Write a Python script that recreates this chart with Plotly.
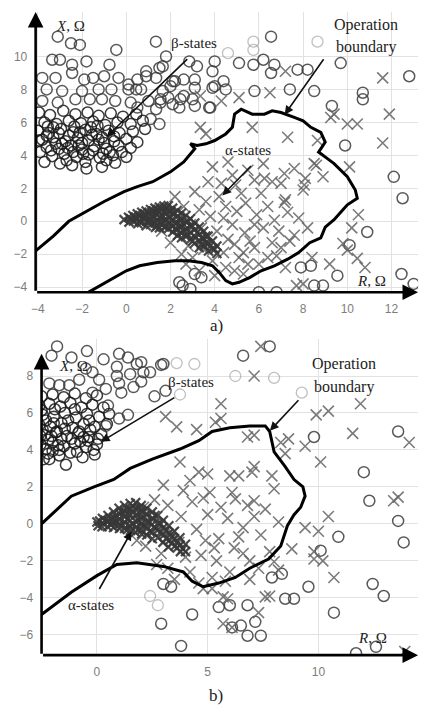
import plotly.graph_objects as go

W, H = 424, 707

# ---------------- Panel a) data ----------------
A_BOUNDARY_R = [-4.1, -3.3, -2.6, -1.8, -1.0, -0.1, 0.5, 1.2, 2.0, 2.6, 2.9, 3.1, 2.9, 3.2, 3.6, 4.0, 4.5, 4.8,
                4.9, 5.2, 5.7, 6.25, 6.6, 7.0, 7.6, 8.0, 8.35, 8.8, 9.0, 8.7, 9.1, 9.4, 10.0, 10.36, 10.45, 10.0,
                9.8, 9.4, 9.0, 8.8, 8.3, 7.8, 7.3, 6.7, 6.1, 5.6, 5.1, 4.8, 4.5, 4.2, 3.9, 3.4, 2.8, 2.2, 1.4,
                0.6, 0.0, -0.8, -1.7]
A_BOUNDARY_X = [-1.8, -0.9, 0.0, 0.6, 1.2, 1.8, 2.1, 2.4, 3.0, 3.6, 4.1, 4.4, 4.7, 4.6, 4.7, 4.9, 5.3, 5.7,
                6.5, 6.8, 6.5, 6.5, 6.7, 6.6, 6.3, 6.1, 5.7, 5.4, 4.8, 4.2, 3.8, 3.5, 2.7, 1.9, 1.4, 1.0,
                0.7, 0.1, -0.35, -1.0, -1.3, -1.9, -2.3, -2.7, -3.0, -3.4, -3.7, -3.8, -3.6, -3.1, -2.7, -2.5,
                -2.4, -2.4, -2.5, -2.7, -3.0, -3.6, -4.3]

A_BETA = [(-3.1, 11.2), (-2.5, 10.8), (-2.1, 10.7), (-0.45, 10.4), (1.34, 10.9), (-3.35, 9.8), (-3.0, 9.8),
          (-2.45, 9.5), (-1.8, 9.7), (-0.76, 9.5), (-3.8, 8.7), (-3.2, 8.7), (-2.45, 9.0), (-1.9, 8.6),
          (-1.5, 8.7), (-1.0, 8.8), (-0.35, 8.7), (0.1, 8.3), (0.5, 8.6), (0.9, 9.1), (1.5, 9.3), (1.8, 10.0),
          (-3.6, 8.0), (-2.9, 7.9), (-2.0, 7.9), (-1.25, 8.0), (-0.67, 8.0), (0.1, 8.0), (0.67, 8.0),
          (1.65, 7.9), (2.0, 8.2), (-3.8, 7.3), (-3.1, 7.2), (-2.3, 7.4), (-1.65, 7.4), (-1.1, 7.4),
          (-0.5, 7.3), (0.2, 7.2), (1.0, 7.3), (1.55, 7.4), (2.1, 7.1), (2.85, 9.7), (1.65, 9.4), (1.35, 8.7),
          (0.9, 8.8), (0.45, 8.0), (1.9, 7.5), (1.55, 7.2), (1.35, 6.8), (2.45, 7.4), (3.0, 7.4), (3.1, 7.0),
          (3.8, 6.9), (2.6, 8.6), (2.1, 8.5), (3.9, 8.1), (0.5, 6.9), (1.1, 6.2), (1.5, 5.9),
          (6.55, 11.2), (4.0, 9.7), (5.1, 9.6), (5.75, 9.5), (6.2, 9.8), (6.55, 9.0), (6.7, 9.5), (7.75, 9.2),
          (8.2, 9.2), (9.7, 9.6), (12.8, 8.8), (3.2, 9.4), (3.9, 9.1), (3.1, 8.6), (4.0, 8.2), (4.4, 8.5),
          (4.5, 8.0), (2.2, 8.5), (2.6, 7.6), (3.1, 8.1), (3.75, 6.9), (2.4, 6.9), (5.8, 7.9), (7.4, 8.0),
          (8.5, 7.9), (10.7, 7.8), (10.7, 7.4), (9.3, 7.0), (9.9, 4.6), (12.1, 2.7), (12.5, 1.4),
          (10.9, -0.65), (10.1, -1.45), (7.9, -2.8), (8.35, -2.7), (9.55, -3.3), (8.5, -3.9), (8.9, -3.9),
          (12.45, -3.2), (13.0, -3.8), (2.4, -3.7), (3.1, -3.2), (3.4, -3.4), (2.55, -3.9), (2.9, -4.1),
          (6.0, -4.3), (6.8, -4.3)]
A_BETA_CORE = [(-3.95, 6.6), (-3.45, 6.45), (-2.85, 6.7), (-2.3, 6.5), (-1.75, 6.6), (-1.25, 6.4), (-0.7, 6.55),
               (-0.15, 6.35), (0.45, 6.5), (-3.7, 6.0), (-3.15, 5.9), (-2.6, 6.1), (-2.05, 5.95), (-1.5, 6.05),
               (-0.95, 5.85), (-0.4, 6.0), (0.2, 5.9), (0.75, 6.1), (-4.0, 5.5), (-3.5, 5.35), (-2.95, 5.6),
               (-2.4, 5.4), (-1.85, 5.55), (-1.35, 5.3), (-0.8, 5.5), (-0.3, 5.35), (0.3, 5.45), (0.85, 5.6),
               (-3.8, 4.95), (-3.3, 5.1), (-2.75, 4.85), (-2.2, 5.05), (-1.7, 4.9), (-1.1, 5.1), (-0.55, 4.85),
               (0.0, 5.0), (0.5, 4.8), (-3.6, 4.5), (-3.05, 4.4), (-2.5, 4.6), (-2.0, 4.35), (-1.45, 4.55),
               (-0.9, 4.4), (-0.35, 4.6), (0.2, 4.45), (-3.35, 3.95), (-2.8, 4.1), (-2.25, 3.9), (-1.7, 4.05),
               (-1.2, 3.85), (-0.6, 4.0), (0.0, 3.9), (-3.0, 3.5), (-2.45, 3.4), (-1.85, 3.6), (-1.1, 3.3),
               (-0.5, 3.55), (-3.3, 5.7), (-2.6, 5.2), (-2.0, 4.75), (-1.55, 5.25), (-3.9, 4.2), (-3.7, 3.6),
               (-2.9, 4.7), (-1.0, 4.75), (-0.2, 4.2), (-3.55, 5.75), (-2.1, 5.4), (-1.3, 5.8), (-2.4, 4.2),
               (-1.8, 3.2), (-0.9, 3.7), (-3.2, 4.7), (-2.7, 3.7), (-1.5, 4.3), (-3.95, 4.9), (-3.4, 4.3),
               (-2.15, 4.6), (-1.25, 4.95), (-0.75, 4.2), (-3.05, 5.35), (-2.35, 5.75), (-1.6, 5.7),
               (-0.55, 5.15), (-2.65, 4.45), (-1.95, 4.1), (-3.6, 5.2), (-1.05, 4.1)]
A_BETA_FAINT = [(4.6, 10.2), (5.75, 10.9), (5.75, 10.4), (8.65, 10.9)]

A_ALPHA = [(7.2, 9.1), (6.5, 7.8), (5.1, 7.5), (4.3, 7.3), (3.35, 7.6), (11.6, 8.7), (11.9, 6.5), (9.25, 6.3),
           (10.0, 5.9), (10.45, 5.9), (3.35, 5.7), (3.6, 5.3), (5.7, 5.7), (7.3, 5.1), (11.6, 4.75), (8.65, 4.9),
           (9.4, 6.5), (10.1, 3.3), (8.9, 2.7), (8.1, 2.6), (8.05, 2.2), (8.0, 1.9), (8.5, 3.5), (7.15, 2.9),
           (7.2, 1.3), (7.3, 0.55), (10.5, 0.4), (10.2, -0.4), (9.8, -1.35), (10.0, -1.75), (10.45, -2.25),
           (10.8, -2.8), (7.7, -3.9), (8.0, -3.8), (3.9, 3.3), (4.3, 2.3), (4.8, 2.8), (5.2, 1.7), (5.8, 2.5),
           (6.25, 2.6), (6.1, 1.7), (6.6, 2.4), (7.0, 2.3), (8.6, 3.4), (7.15, 1.15), (6.7, 0.06), (7.6, -0.85),
           (7.0, -1.6), (6.4, -2.2), (5.8, -1.6), (5.36, -0.7), (4.9, -3.0), (5.5, -2.6), (2.3, -0.9),
           (2.8, -1.5), (3.0, -2.2), (2.5, -2.0), (3.4, -0.4), (3.8, 0.3), (4.1, -0.6), (4.5, 0.9), (4.2, 1.5),
           (3.6, 1.2), (4.8, -0.2), (5.0, 0.6), (5.4, 1.1), (5.9, 0.4), (6.2, -0.4), (5.6, -1.2), (4.9, -1.4),
           (4.4, -1.9), (3.9, -2.4), (4.5, -2.8), (5.1, -2.2), (6.0, -2.6), (6.8, -2.1), (7.4, -1.2),
           (6.9, -0.6), (6.4, 0.9), (7.8, 0.2), (8.2, -0.4), (2.6, 0.9), (3.1, 1.8), (5.5, 3.1), (4.6, 3.6),
           (6.2, 3.5), (7.6, 3.2), (3.3, -3.0), (4.0, -3.3), (7.2, -2.8), (8.4, -2.2), (9.2, -2.6), (5.3, -3.2),
           (2.0, -1.3), (1.6, -0.6), (2.9, -0.2), (3.3, 0.7), (4.4, 0.2), (5.3, -1.9), (4.6, -1.1), (3.5, -1.7),
           (6.6, -1.3), (5.8, -0.2), (2.2, 1.5), (2.7, -2.6), (3.7, 2.4), (4.95, 2.2)]
A_ALPHA_CORE = [(-0.1, 0.1), (0.1, 0.25), (0.12, -0.05), (0.3, 0.35), (0.32, 0.02), (0.5, 0.45), (0.48, 0.12),
                (0.52, -0.15), (0.7, 0.55), (0.72, 0.22), (0.68, -0.08), (0.9, 0.62), (0.88, 0.3), (0.92, 0.0),
                (0.9, -0.27), (1.1, 0.72), (1.12, 0.4), (1.08, 0.1), (1.1, -0.2), (1.3, 0.8), (1.32, 0.5),
                (1.28, 0.2), (1.3, -0.1), (1.32, -0.37), (1.5, 0.86), (1.48, 0.55), (1.52, 0.25), (1.5, -0.05),
                (1.5, -0.4), (1.7, 0.92), (1.72, 0.6), (1.68, 0.3), (1.7, 0.0), (1.72, -0.35), (1.9, 0.95),
                (1.88, 0.62), (1.92, 0.25), (1.9, -0.1), (1.9, -0.45), (2.1, 0.8), (2.12, 0.45), (2.08, 0.1),
                (2.1, -0.3), (2.1, -0.65), (2.3, 0.65), (2.32, 0.3), (2.28, -0.1), (2.3, -0.5), (2.32, -0.85),
                (2.5, 0.5), (2.5, 0.1), (2.52, -0.3), (2.48, -0.7), (2.5, -1.0), (2.7, 0.35), (2.72, -0.05),
                (2.7, -0.5), (2.68, -0.9), (2.9, 0.15), (2.9, -0.3), (2.92, -0.7), (2.9, -1.1), (3.1, -0.1),
                (3.1, -0.5), (3.12, -0.95), (3.08, -1.35), (3.3, -0.35), (3.3, -0.8), (3.32, -1.2), (3.3, -1.6),
                (3.5, -0.6), (3.5, -1.05), (3.52, -1.5), (3.7, -0.9), (3.7, -1.35), (3.72, -1.8), (3.9, -1.2),
                (3.9, -1.65), (4.1, -1.5), (4.1, -1.95), (0.2, 0.15), (0.4, 0.25), (0.6, 0.3), (0.8, 0.45),
                (1.0, 0.5), (1.2, 0.62), (1.4, 0.7), (1.6, 0.75), (1.8, 0.8), (2.0, 0.6), (2.2, 0.5), (0.6, 0.0),
                (0.8, 0.15), (1.0, -0.05), (1.2, 0.3), (1.4, 0.05), (1.6, 0.4), (1.8, 0.1), (2.0, -0.2),
                (2.2, -0.1), (2.4, -0.3), (2.6, -0.6), (2.8, -0.8), (3.0, -0.3), (3.2, -0.7), (3.4, -1.0),
                (3.6, -1.3), (3.8, -1.5), (2.4, 0.15), (2.6, -0.2), (2.8, 0.0), (1.4, -0.25), (1.6, -0.2),
                (1.8, -0.3), (2.0, 0.25), (2.2, -0.45), (3.0, -1.2), (3.4, -1.4), (3.6, -0.9), (4.0, -1.7)]

# ---------------- Panel b) data ----------------
B_BOUNDARY_R = [-2.5, -1.16, -0.13, 0.76, 1.5, 2.5, 3.75, 4.6, 5.2, 6.0, 6.9, 7.6, 7.8, 8.0, 8.5, 8.9, 9.3,
                9.4, 9.2, 8.9, 8.6, 8.3, 7.75, 6.9, 6.25, 5.5, 4.8, 4.3, 3.9, 3.0, 1.8, 0.9, 0.0, -1.16, -2.5]
B_BOUNDARY_X = [0.0, 1.5, 2.0, 2.4, 3.0, 3.5, 4.05, 4.5, 5.0, 5.2, 5.3, 5.3, 5.0, 3.9, 3.1, 2.4, 2.0,
                1.5, 0.9, 0.5, -0.1, -1.2, -1.9, -2.4, -2.9, -3.2, -3.4, -3.1, -2.6, -2.3, -2.1, -2.2, -2.8,
                -3.7, -4.9]

B_BETA = [(1.0, 9.2), (0.9, 8.5), (0.9, 8.0), (1.0, 7.6), (1.4, 9.0), (2.0, 8.75), (2.1, 8.2), (2.9, 8.6),
          (1.1, 7.1), (1.65, 7.4), (2.0, 7.7), (2.6, 6.9), (3.1, 7.2), (1.4, 5.9), (0.4, 7.3), (0.1, 7.8),
          (-0.2, 8.2), (-0.5, 8.4), (-0.8, 7.8), (-1.25, 7.5), (-1.7, 7.5), (-2.15, 7.6), (-0.2, 7.1),
          (0.5, 6.4), (1.0, 5.7), (0.4, 5.3), (1.8, 8.65), (3.0, 8.65), (-1.8, 9.6), (-2.05, 9.1),
          (-1.15, 9.0), (-0.45, 9.35), (0.3, 8.9), (1.5, 8.1), (2.4, 8.2), (6.6, 9.1), (7.8, 9.6),
          (9.8, 4.7), (13.6, 5.0), (12.05, 2.8), (12.3, 1.25), (13.6, 0.16), (13.85, -1.0), (10.9, -0.7),
          (10.1, -1.45), (12.45, -3.25), (12.95, -3.9), (9.55, -3.4), (10.7, -4.8), (8.5, -4.05), (8.9, -4.05),
          (7.9, -2.9), (8.35, -2.7), (6.8, -4.4), (6.0, -4.4), (5.5, -4.5), (6.1, -5.6), (6.5, -5.5),
          (7.15, -5.3), (6.8, -6.05), (7.4, -6.05), (4.3, -4.9), (3.8, -6.6), (2.9, -5.4), (3.0, -3.25),
          (3.35, -3.4), (11.7, -7.0), (12.6, -6.65)]
B_BETA_CORE = [(-2.5, 6.9), (-2.0, 7.0), (-1.5, 6.85), (-1.0, 7.05), (-0.5, 6.8), (0.0, 6.95), (-2.6, 6.4),
               (-2.15, 6.5), (-1.65, 6.35), (-1.2, 6.55), (-0.7, 6.3), (-0.2, 6.45), (0.3, 6.3), (-2.45, 5.9),
               (-1.95, 5.8), (-1.45, 6.0), (-0.95, 5.75), (-0.45, 5.95), (0.1, 5.8), (0.55, 5.95), (-2.6, 5.35),
               (-2.1, 5.25), (-1.6, 5.45), (-1.1, 5.2), (-0.6, 5.4), (-0.1, 5.25), (0.45, 5.4), (-2.35, 4.8),
               (-1.85, 4.95), (-1.35, 4.75), (-0.85, 4.9), (-0.35, 4.7), (0.2, 4.85), (-2.55, 4.3), (-2.0, 4.4),
               (-1.5, 4.2), (-1.0, 4.35), (-0.5, 4.15), (0.0, 4.3), (-2.2, 3.8), (-1.7, 3.7), (-1.2, 3.85),
               (-0.65, 3.6), (-0.1, 3.75), (-1.4, 3.2), (-2.4, 3.5), (-2.3, 5.6), (-1.8, 5.0), (-1.3, 5.6),
               (-0.8, 5.0), (-2.2, 4.55), (-1.6, 4.6), (-0.3, 5.1), (-2.5, 6.15), (-1.9, 6.2), (-1.0, 6.2),
               (-0.4, 4.5), (-2.0, 3.95), (-0.15, 4.0), (-0.6, 4.7), (-2.45, 5.1), (-1.75, 4.25), (-2.3, 4.05),
               (-1.95, 5.45), (-1.15, 4.6), (-0.35, 5.6), (-2.55, 4.75), (-1.45, 5.15), (-0.75, 4.45),
               (-2.05, 4.75), (-0.9, 3.9), (-2.15, 3.5), (0.05, 4.6), (-1.7, 4.0)]
B_BETA_FAINT = [(3.75, 7.0), (6.25, 8.0), (8.0, 7.9), (9.25, 7.1), (4.4, 8.65), (3.6, 8.7), (2.4, -3.9),
                (2.75, -4.4)]

B_ALPHA = [(5.6, 6.5), (5.6, 5.7), (5.35, 5.5), (4.5, 5.1), (6.8, 4.7), (8.65, 4.6), (8.5, 3.8), (9.4, 4.2),
           (9.9, 5.9), (10.45, 6.1), (11.9, 6.5), (11.55, 4.9), (10.1, 3.35), (14.1, 4.4), (13.6, 1.45),
           (3.1, 5.8), (3.6, 5.25), (10.45, 0.4), (13.4, 1.25), (7.1, 4.8), (8.3, 4.4), (7.4, 9.6), (7.1, 8.0),
           (3.75, 3.35), (4.2, 2.35), (4.6, 2.8), (5.0, 2.7), (6.0, 2.6), (6.4, 2.6), (7.0, 2.8), (7.1, 3.1),
           (7.9, 2.6), (8.0, 1.9), (5.1, 1.7), (6.1, 1.7), (6.25, 1.35), (7.1, 1.25), (7.1, 0.4), (8.8, -1.35),
           (2.6, 1.3), (3.2, 1.0), (3.8, 0.4), (4.3, 1.2), (4.5, -0.3), (5.0, 0.5), (5.5, -0.8), (5.9, 0.3),
           (6.6, -0.2), (6.2, -1.3), (7.4, -0.6), (7.8, -1.5), (6.9, -2.0), (5.4, -2.0), (4.7, -1.7),
           (4.2, -2.6), (5.2, -2.9), (3.7, -1.0), (2.9, -1.6), (2.2, -1.2), (1.8, -0.9), (3.2, -2.4),
           (6.0, -2.6), (7.6, 0.8), (8.2, 0.1), (4.6, -3.2), (5.8, -3.1), (3.0, 2.1), (6.8, 1.0),
           (9.4, -0.2), (10.0, -0.4), (9.8, -1.5), (10.2, -2.0), (10.7, -2.9), (8.0, -2.05), (8.2, -2.5),
           (7.6, -3.95), (7.3, -4.8), (5.7, -5.4), (6.1, -5.6), (13.9, -6.9), (9.8, -1.9), (6.9, -3.0),
           (7.8, -3.9), (4.8, -3.5), (5.2, -3.5), (5.7, -3.95), (5.9, -4.05), (2.5, 0.2), (3.4, -0.5),
           (4.0, -1.8), (4.9, -0.9), (5.6, 0.9), (6.4, -0.7), (3.9, 1.8), (4.8, 1.4), (2.7, -2.2), (3.5, -3.0),
           (5.3, -1.3), (6.6, -1.6), (7.3, -2.4), (2.1, 0.9)]
B_ALPHA_CORE = [(0.0, 0.1), (0.05, -0.1), (0.25, 0.3), (0.27, 0.02), (0.23, -0.15), (0.5, 0.45), (0.52, 0.15),
                (0.48, -0.15), (0.75, 0.65), (0.77, 0.35), (0.73, 0.05), (0.75, -0.2), (1.0, 0.85), (1.02, 0.55),
                (0.98, 0.25), (1.0, -0.05), (1.02, -0.25), (1.25, 1.0), (1.23, 0.7), (1.27, 0.4), (1.25, 0.1),
                (1.25, -0.25), (1.5, 1.1), (1.52, 0.8), (1.48, 0.5), (1.5, 0.2), (1.5, -0.1), (1.52, -0.35),
                (1.75, 1.15), (1.73, 0.85), (1.77, 0.5), (1.75, 0.15), (1.75, -0.2), (1.73, -0.45), (2.0, 1.0),
                (2.02, 0.7), (1.98, 0.35), (2.0, 0.0), (2.0, -0.35), (2.02, -0.55), (2.25, 0.85), (2.23, 0.5),
                (2.27, 0.15), (2.25, -0.2), (2.25, -0.6), (2.5, 0.65), (2.52, 0.3), (2.48, -0.05), (2.5, -0.45),
                (2.5, -0.8), (2.75, 0.45), (2.77, 0.05), (2.73, -0.35), (2.75, -0.75), (3.0, 0.2), (3.0, -0.2),
                (3.02, -0.6), (2.98, -1.0), (3.25, -0.1), (3.25, -0.5), (3.27, -0.9), (3.23, -1.25), (3.5, -0.4),
                (3.5, -0.8), (3.52, -1.2), (3.75, -0.75), (3.75, -1.15), (3.77, -1.5), (4.0, -1.1), (4.0, -1.5),
                (0.12, 0.15), (0.38, 0.2), (0.62, 0.3), (0.88, 0.45), (1.12, 0.65), (1.38, 0.8), (1.62, 0.95),
                (1.88, 0.85), (2.12, 0.7), (0.62, -0.05), (0.88, 0.1), (1.12, -0.1), (1.38, 0.25), (1.62, 0.0),
                (1.88, 0.2), (2.12, -0.1), (2.38, 0.1), (2.62, -0.2), (2.88, -0.45), (3.12, -0.8), (3.38, -1.05),
                (3.62, -1.3), (2.38, -0.4), (2.62, 0.45), (2.88, 0.0), (3.12, -0.35), (3.38, -0.7), (3.62, -0.95),
                (1.38, -0.3), (1.62, 0.6), (1.88, -0.3), (2.12, 0.35), (3.88, -1.35)]

AX_FONT = dict(family="Liberation Sans, Arial", size=12, color="#7d7d7d")
SERIF = "Liberation Serif, Times New Roman"


def unzip(pts):
    return [p[0] for p in pts], [p[1] for p in pts]


fig = go.Figure()


def add_panel(xa, ya, beta, beta_core, beta_faint, alpha, alpha_core, br, bx):
    r, x = unzip(beta_faint)
    fig.add_trace(go.Scatter(x=r, y=x, mode="markers", xaxis=xa, yaxis=ya,
                             marker=dict(symbol="circle-open", size=11, color="rgba(150,150,150,0.6)",
                                         line=dict(width=1.3))))
    r, x = unzip(beta_core)
    fig.add_trace(go.Scatter(x=r, y=x, mode="markers", xaxis=xa, yaxis=ya,
                             marker=dict(symbol="circle-open", size=11, color="rgba(25,25,25,0.85)",
                                         line=dict(width=1.5))))
    r, x = unzip(beta)
    fig.add_trace(go.Scatter(x=r, y=x, mode="markers", xaxis=xa, yaxis=ya,
                             marker=dict(symbol="circle-open", size=11, color="rgba(60,60,60,0.85)",
                                         line=dict(width=1.5))))
    r, x = unzip(alpha)
    fig.add_trace(go.Scatter(x=r, y=x, mode="markers", xaxis=xa, yaxis=ya,
                             marker=dict(symbol="x-thin-open", size=11, color="rgba(100,100,100,0.85)",
                                         line=dict(width=1.6))))
    r, x = unzip(alpha_core)
    fig.add_trace(go.Scatter(x=r, y=x, mode="markers", xaxis=xa, yaxis=ya,
                             marker=dict(symbol="x-thin-open", size=9, color="rgba(55,55,55,0.9)",
                                         line=dict(width=2.2))))
    fig.add_trace(go.Scatter(x=br, y=bx, mode="lines", xaxis=xa, yaxis=ya,
                             line=dict(color="black", width=3)))


add_panel("x", "y", A_BETA, A_BETA_CORE, A_BETA_FAINT, A_ALPHA, A_ALPHA_CORE, A_BOUNDARY_R, A_BOUNDARY_X)
add_panel("x2", "y2", B_BETA, B_BETA_CORE, B_BETA_FAINT, B_ALPHA, B_ALPHA_CORE, B_BOUNDARY_R, B_BOUNDARY_X)

grid = dict(showgrid=True, gridcolor="#e2e2e2", gridwidth=1, zeroline=False, showline=False,
            ticks="outside", ticklen=5, tickcolor="rgba(0,0,0,0)", tickfont=AX_FONT)

fig.update_layout(
    width=W, height=H, margin=dict(l=0, r=0, t=0, b=0),
    paper_bgcolor="white", plot_bgcolor="white", showlegend=False,
    xaxis=dict(domain=[31 / W, 418 / W], range=[-4.1, 13.2], tickvals=[-4, -2, 0, 2, 4, 6, 8, 10, 12],
               anchor="y", **grid),
    yaxis=dict(domain=[1 - 293 / H, 1 - 12 / H], range=[-4.3, 12.7], tickvals=[-4, -2, 0, 2, 4, 6, 8, 10],
               anchor="x", **grid),
    xaxis2=dict(domain=[37 / W, 418 / W], range=[-2.5, 14.5], tickvals=[0, 5, 10], anchor="y2", **grid),
    yaxis2=dict(domain=[1 - 657 / H, 1 - 340 / H], range=[-7.1, 10.0], tickvals=[-6, -4, -2, 0, 2, 4, 6, 8],
                anchor="x2", **grid),
)

ann = []


def axis_arrow(xr, yr, x0, y0, x1, y1):
    ann.append(dict(x=x1, y=y1, ax=x0, ay=y0, xref=xr, yref=yr, axref=xr, ayref=yr, text="",
                    showarrow=True, arrowhead=2, arrowsize=1.2, arrowwidth=2.6, arrowcolor="black"))


axis_arrow("x", "y", -4.1, -4.3, 13.2, -4.3)
axis_arrow("x", "y", -4.1, -4.3, -4.1, 12.7)
axis_arrow("x2", "y2", -2.5, -7.1, 14.5, -7.1)
axis_arrow("x2", "y2", -2.5, -7.1, -2.5, 9.2)


def text(px, py, s, size=15):
    ann.append(dict(x=px / W, y=1 - py / H, xref="paper", yref="paper", text=s, showarrow=False,
                    xanchor="center", yanchor="middle",
                    font=dict(family=SERIF, size=size, color="#222")))


def pointer(tx, ty, hx, hy):
    ann.append(dict(x=hx / W, y=1 - hy / H, xref="paper", yref="paper", ax=tx - hx, ay=ty - hy,
                    axref="pixel", ayref="pixel", text="", showarrow=True, arrowhead=2,
                    arrowsize=1.1, arrowwidth=1.6, arrowcolor="#111"))


# panel a labels
text(66, 26, "<i>X</i>, Ω", 15)
text(371, 282, "<i>R</i>, Ω", 15)
text(191, 43, "β-states", 15)
text(365, 25, "Operation", 16)
text(365, 47, "boundary", 16)
text(246, 150, "α-states", 15)
pointer(185, 58, 103, 137)
pointer(323, 58, 283, 115)
pointer(250, 165, 220, 196)
text(214, 326, "a)", 17)

# panel b labels
text(69, 367, "<i>X</i>, Ω", 15)
text(372, 640, "<i>R</i>, Ω", 15)
text(188, 383, "β-states", 15)
text(343, 365, "Operation", 16)
text(343, 388, "boundary", 16)
text(87, 607, "α-states", 15)
pointer(172, 398, 97, 443)
pointer(298, 400, 268, 432)
pointer(95, 592, 128, 533)
text(214, 697, "b)", 17)

fig.update_layout(annotations=ann)
fig.write_html("out.html")
